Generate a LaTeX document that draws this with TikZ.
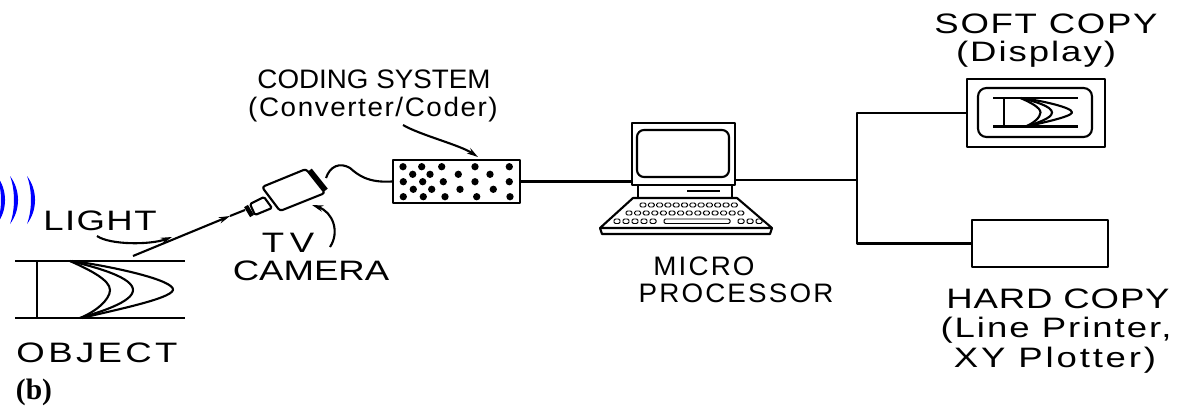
\documentclass[tikz,border=0pt]{standalone}
\usepackage{fontspec}
\setmainfont{Liberation Serif}
\newfontfamily\lettering[FakeStretch=1.3]{Liberation Sans}
\newfontfamily\narrowlettering[FakeStretch=1.04]{Liberation Sans}
\usetikzlibrary{calc,positioning,arrows.meta}

\newcommand\pxl{0.025cm}

% the object: two rails, an end stop and three nested crescents
\tikzset{
  scene/.pic={
    \draw (0,0) -- (170,0) (0,57) -- (170,57) (22,0) -- (22,57);
    \draw (55,0) .. controls (75,9) and (95,19) .. (95,29)
                 .. controls (95,39) and (80,51) .. (65,57);
    \draw (55,0) .. controls (85,7) and (118,17) .. (118,29)
                 .. controls (118,41) and (85,51) .. (65,57);
    \draw (57,0) .. controls (95,5) and (160,19) .. (158,29)
                 .. controls (156,38) and (95,50) .. (67,57);
  }
}

\begin{document}
\begin{tikzpicture}[
    x=0.025cm, y=-0.025cm,
    line width=1.5pt, line join=round,
    lbl/.style={font=\lettering\addfontfeature{LetterSpace=#1}\fontsize{20}{22}\selectfont,
                anchor=base, inner sep=0pt},
    lbl/.default=0,
    sublbl/.style={font=\narrowlettering\addfontfeature{LetterSpace=#1}\fontsize{19}{21}\selectfont,
                   anchor=base, inner sep=0pt},
    sublbl/.default=0,
    box/.style={rectangle, draw=black, inner sep=0pt},
    arr/.style={-{Stealth[length=8pt,width=4.5pt]}},
    key/.style={line width=0.7pt, rounded corners=1pt},
    wave/.style={fill=blue}
]
\useasboundingbox (0,0) rectangle (1184,409);

% light source
\foreach \xe in {-3,10,27}
  \fill[wave] (\xe,176) .. controls (\xe+10.7,190) and (\xe+10.7,210) .. (\xe,224)
              .. controls (\xe+5.3,210) and (\xe+5.3,190) .. cycle;

% object
\pic at (15,261) {scene};
\node[lbl=5]  (light)  at (100,230) {LIGHT};
\node[lbl=12] (object) at (97,362)  {OBJECT};
\node[font=\bfseries\fontsize{21}{23}\selectfont, anchor=base, inner sep=0pt] (tag) at (34,399) {(b)};

% camera
\draw[rounded corners=2pt] (262,187) -- (306,169) -- (325,193) -- (280,211) -- cycle;
\draw[rounded corners=1pt] (250,204) -- (264,197) -- (272,208) -- (255,215) -- cycle;
\draw[line width=3.2pt] (310,170) -- (326,190);
\draw[line width=3.2pt] (246,206) -- (252,216);
\coordinate (lens)    at (245,210);
\coordinate (camback) at (326,178);
\node[lbl] (tv)     at (288,252) {T\kern4pt V};
\node[lbl] (camera) at (311,280) {CAMERA};

% coder
\node[box, minimum width=127*\pxl, minimum height=43*\pxl] (coder) at (456.5,181.5) {};
\foreach \x/\y in {403/166.7,421.7/166.7,441.7/166.7,475/166.7,509.3/166.7,
                   412.7/174.3,430/174.3,458.3/174.3,490/174.3,
                   403.3/181.7,422.7/181.7,443.3/181.7,475/181.7,509.3/181.7,
                   413.3/189.3,431.7/189.3,460/189.3,493.3/189.3,
                   403.3/196.7,423.3/196.7,445/196.7,476.7/196.7,510/196.7}
  \fill (\x,\y) circle [radius=2.6pt];
\node[sublbl] (coding) at (374,88)  {CODING SYSTEM};
\node[sublbl=6] (conv) at (373,116) {(Converter/Coder)};

% microprocessor
\node[box, minimum width=103*\pxl, minimum height=62*\pxl] (monitor) at (683.5,154) {};
\draw[rounded corners=5pt] (637,130) rectangle (729,177);
\draw (638,185) rectangle (732,198);
\draw (687,191) -- (720,191);
\draw (633,198) -- (737,198) -- (772,228) -- (600,228) -- cycle;
\draw (600,228) -- (602,234) -- (770,234) -- (772,228);
\foreach \i in {0,...,11}
  \draw[key] (640+\i*8.3,203) rectangle ++(6,4);
\foreach \i in {0,...,13}
  \draw[key] (626+\i*8.6,211) rectangle ++(6,4);
\foreach \i in {0,...,4}
  \draw[key] (614+\i*9,219) rectangle ++(6,4.5);
\draw[key] (664,219) rectangle (730,223.5);
\foreach \i in {0,...,2}
  \draw[key] (738+\i*9,219) rectangle ++(6,4.5);
\node[sublbl=8] (micro) at (704,275) {MICRO};
\node[sublbl=8] (proc)  at (736,302) {PROCESSOR};

% outputs
\node[box, minimum width=138*\pxl, minimum height=68*\pxl] (display) at (1036,113) {};
\draw[rounded corners=6pt] (978,88) rectangle (1092,137);
\pic[scale=0.5] at (993,98) {scene};
\node[box, minimum width=136*\pxl, minimum height=47*\pxl] (printer) at (1040,243.5) {};
\node[lbl=6]  (soft)  at (1046,33) {SOFT COPY};
\node[lbl=7]  (disp)  at (1036,61) {(Display)};
\node[lbl=3]  (hard)  at (1058,308) {HARD COPY};
\node[lbl=7]  (line)  at (1056,337) {(Line Printer,};
\node[lbl=10] (plot)  at (1055,367) {XY Plotter)};

% connections
\coordinate (split) at (857,180);
\draw (coder.east) -- (coder.east -| monitor.west);
\draw (monitor.east |- split) -- (split);
\draw (display.west) -| (split) |- (printer.west);
\draw (camback) .. controls (330,166) and (340,162) .. (350,168)
      .. controls (358,175) and (368,183) .. (coder.west);

% arrows
\coordinate (raystart) at (133,256);
\coordinate (raytip)   at (230,216);
\draw[arr] (raystart) -- (raytip);
\draw (raytip) -- (lens);
\draw[arr] (97,236) .. controls (110,245) and (150,245) .. (172,237);
\draw[arr] (330,247) .. controls (340,232) and (333,212) .. (312,205);
\draw[arr] (403,125) .. controls (420,135) and (460,145) .. (478,157);
\end{tikzpicture}
\end{document}
